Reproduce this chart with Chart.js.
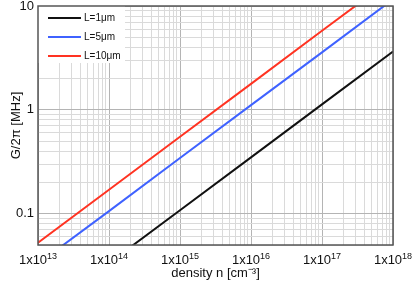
<!DOCTYPE html>
<html>
<head>
<meta charset="utf-8">
<script src="https://cdn.jsdelivr.net/npm/chart.js@4"></script>
<style>
  html, body { margin: 0; padding: 0; background: #fff; }
  #c { display: block; }
</style>
</head>
<body>
<canvas id="c" width="415" height="288"></canvas>
<script>
// density n [cm^-3] and coupling G/2pi [MHz]
var densities = [1e13, 1e14, 1e15, 1e16, 1e17, 1e18];
var gL1 = [0.0104, 0.0335, 0.108, 0.349, 1.13, 3.64];
var gL5 = [0.033, 0.106, 0.344, 1.11, 3.58, 11.6];
var gL10 = [0.0526, 0.170, 0.551, 1.78, 5.77, 18.6];
var seriesLabels = ['L=1μm', 'L=5μm', 'L=10μm'];
var seriesColors = ['#111111', '#3f62ff', '#ff3322'];
var xExponents = [13, 14, 15, 16, 17, 18];
var yTickLabels = ['0.1', '1', '10'];

var FAMILY = '"Liberation Sans", Arial, sans-serif';

function isDecade(v) {
    var e = Math.log10(v);
    return Math.abs(e - Math.round(e)) < 1e-6;
}
function pts(ys) {
    return densities.map(function(n, i) { return {x: n, y: ys[i]}; });
}
function logTicks(lo, hi, max) {
    var t = [];
    for (var k = lo; k <= hi; k++) {
        for (var m = 1; m <= 9; m++) {
            var v = m * Math.pow(10, k);
            if (v <= max * 1.0001) t.push({value: v});
        }
    }
    return t;
}

// frame, legend box and the 1x10^n labels with a real raised exponent
var framePlugin = {
    id: 'frame',
    beforeDatasetsDraw: function(chart) {
        var a = chart.chartArea, ctx = chart.ctx;
        ctx.save();
        ctx.fillStyle = '#fff';
        ctx.fillRect(a.left, a.top, 87, 57);
        ctx.restore();
    },
    afterDatasetsDraw: function(chart) {
        var a = chart.chartArea, ctx = chart.ctx;
        ctx.save();
        chart.data.datasets.forEach(function(ds, i) {
            var y = a.top + 12 + i * 19;
            ctx.strokeStyle = ds.borderColor;
            ctx.lineWidth = 2;
            ctx.beginPath();
            ctx.moveTo(a.left + 10, y);
            ctx.lineTo(a.left + 43, y);
            ctx.stroke();
            ctx.fillStyle = '#111';
            ctx.font = '10px ' + FAMILY;
            ctx.textBaseline = 'middle';
            ctx.fillText(ds.label, a.left + 46, y + 0.5);
        });
        ctx.strokeStyle = '#555';
        ctx.lineWidth = 1.5;
        ctx.strokeRect(a.left, a.top, a.right - a.left, a.bottom - a.top);

        var xs = chart.scales.x;
        ctx.fillStyle = '#111';
        ctx.textBaseline = 'alphabetic';
        ctx.textAlign = 'left';
        xExponents.forEach(function(e) {
            var px = xs.getPixelForValue(Math.pow(10, e));
            var base = '1x10', ex = String(e);
            ctx.font = '13px ' + FAMILY;
            var w1 = ctx.measureText(base).width;
            ctx.font = '9px ' + FAMILY;
            var w2 = ctx.measureText(ex).width;
            var x0 = px - (w1 + w2) / 2;
            ctx.font = '13px ' + FAMILY;
            ctx.fillText(base, x0, a.bottom + 19);
            ctx.font = '9px ' + FAMILY;
            ctx.fillText(ex, x0 + w1, a.bottom + 14);
        });
        ctx.restore();
    }
};

var font = {family: FAMILY, size: 13};

var ctx = document.getElementById('c').getContext('2d');
var chart = new Chart(ctx, {
    type: 'line',
    data: {
        datasets: [
            {label: seriesLabels[0], data: pts(gL1), borderColor: seriesColors[0]},
            {label: seriesLabels[1], data: pts(gL5), borderColor: seriesColors[1]},
            {label: seriesLabels[2], data: pts(gL10), borderColor: seriesColors[2]}
        ]
    },
    options: {
        responsive: false,
        animation: false,
        layout: {padding: {top: 6, right: 22, bottom: 7, left: 0}},
        elements: {
            point: {radius: 0},
            line: {borderWidth: 2, tension: 0}
        },
        plugins: {
            legend: {display: false},
            tooltip: {enabled: false}
        },
        scales: {
            x: {
                type: 'logarithmic',
                min: 1e13,
                max: 1e18,
                afterBuildTicks: function(s) { s.ticks = logTicks(13, 18, 1e18); },
                afterFit: function(s) {
                    s.height = 36;
                    s.paddingLeft = 0;
                    s.paddingRight = 0;
                },
                grid: {
                    color: function(c) { return isDecade(c.tick.value) ? '#b4b4b4' : '#dadada'; },
                    drawTicks: false
                },
                border: {display: false},
                ticks: {display: false, autoSkip: false},
                title: {
                    display: true,
                    text: 'density n [cm⁻³]',
                    color: '#111',
                    font: font,
                    padding: {top: 0, bottom: 0}
                }
            },
            y: {
                type: 'logarithmic',
                min: 0.05,
                max: 10,
                afterBuildTicks: function(s) { s.ticks = logTicks(-2, 1, 10).filter(function(t) { return t.value >= 0.05 - 1e-9; }); },
                afterFit: function(s) {
                    s.width = 38;
                    s.paddingTop = 0;
                    s.paddingBottom = 0;
                },
                grid: {
                    color: function(c) { return isDecade(c.tick.value) ? '#b4b4b4' : '#dadada'; },
                    drawTicks: false
                },
                border: {display: false},
                ticks: {
                    autoSkip: false,
                    padding: 4,
                    color: '#111',
                    font: font,
                    callback: function(v) {
                        var s = String(+v.toPrecision(3));
                        return yTickLabels.indexOf(s) >= 0 ? s : '';
                    }
                },
                title: {
                    display: true,
                    text: 'G/2π [MHz]',
                    color: '#111',
                    font: font,
                    padding: {top: 9, bottom: 0}
                }
            }
        }
    },
    plugins: [framePlugin]
});
</script>
</body>
</html>
